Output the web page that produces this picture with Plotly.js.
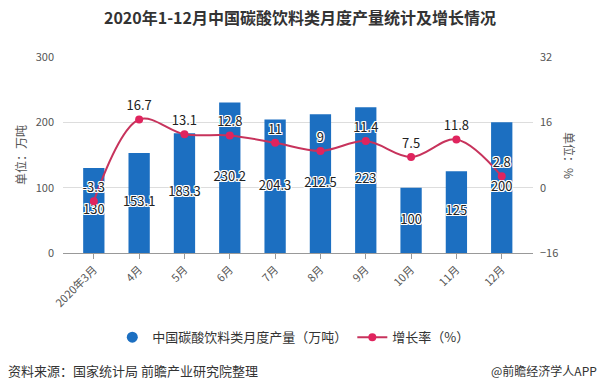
<!DOCTYPE html>
<html><head><meta charset="utf-8">
<script src="https://cdn.plot.ly/plotly-3.0.1.min.js"></script>
<style>html,body{margin:0;padding:0;background:#fff}#c{width:600px;height:391px}</style>
</head><body><div id="c"></div>
<script>
const categories = ['2020年3月','4月','5月','6月','7月','8月','9月','10月','11月','12月'];
const output = [130, 153.1, 183.3, 230.2, 204.3, 212.5, 223, 100, 125, 200];
const growth = [-3.3, 16.7, 13.1, 12.8, 11, 9, 11.4, 7.5, 11.8, 2.8];
const seriesNames = ['中国碳酸饮料类月度产量（万吨）', '增长率（%）'];

const FONT = '"Noto Sans CJK SC", "Noto Sans", sans-serif';
const SH = '1px 1px 0 #fff, -1px -1px 0 #fff, 1px -1px 0 #fff, -1px 1px 0 #fff, 0 1px 0 #fff, 0 -1px 0 #fff, 1px 0 0 #fff, -1px 0 0 #fff';
const BLUE = '#1c6fc1';
const RED = '#c7335c';

const traces = [
  {type:'bar', x:categories, y:output, marker:{color:BLUE}, width:0.47, showlegend:false, hoverinfo:'none'},
  {type:'scatter', mode:'text', x:categories, y:output.map(v=>v/2), text:output.map(String),
   textposition:'middle center', textfont:{size:13, color:'#222', family:FONT, shadow:SH}, showlegend:false, hoverinfo:'none'},
  {type:'scatter', mode:'lines+markers+text', x:categories, y:growth, yaxis:'y2', name:seriesNames[1],
   line:{color:RED, width:2, shape:'spline', smoothing:1}, marker:{color:'#e0245e', size:8},
   text:growth.map(String), textposition:'top center',
   textfont:{size:13, color:'#222', family:FONT, shadow:SH}, hoverinfo:'none'},
  {type:'scatter', mode:'markers', x:[null], y:[null], name:seriesNames[0],
   marker:{color:BLUE, size:11, symbol:'circle'}, hoverinfo:'none'}
];

const layout = {
  width:600, height:391,
  margin:{l:63, r:67, t:57, b:138},
  paper_bgcolor:'#fff', plot_bgcolor:'#fff',
  font:{family:FONT, color:'#555', size:11},
  title:{text:'<b>2020年1-12月中国碳酸饮料类月度产量统计及增长情况</b>', x:0.5, xanchor:'center', y:0.953, yanchor:'middle', font:{size:16, color:'#333', family:FONT}},
  showlegend:true,
  legend:{orientation:'h', x:0.49, xanchor:'center', y:-0.43, yanchor:'middle', traceorder:'reversed', font:{size:13, color:'#333'}, itemwidth:30},
  xaxis:{type:'category', range:[-0.68, 9.69], showline:true, linecolor:'#999', linewidth:1, ticks:'outside', ticklen:5, tickcolor:'#999',
         tickangle:-45, tickfont:{size:11, color:'#555'}, showgrid:false, zeroline:false},
  yaxis:{range:[0,300], dtick:100, showgrid:true, gridcolor:'#ddd', zeroline:false, ticks:'', tickfont:{size:11, color:'#555'},
         ticklabelstandoff:8,
         title:{text:'单位：万吨', font:{size:12, color:'#555'}, standoff:6}},
  yaxis2:{range:[-16,32], dtick:16, overlaying:'y', side:'right', showgrid:false, zeroline:false, tickfont:{size:11, color:'#555'},
          ticklabelstandoff:6},
  annotations:[
    {xref:'paper', yref:'paper', x:(570-63)/470, y:0.5, xanchor:'center', yanchor:'middle', textangle:90, showarrow:false,
     text:'单位：%', font:{size:12, color:'#555', family:FONT}},
    {xref:'paper', yref:'paper', x:-57/470, y:(253-370)/196, xanchor:'left', yanchor:'middle', showarrow:false,
     text:'资料来源：国家统计局 前瞻产业研究院整理', font:{size:13, color:'#333', family:FONT}},
    {xref:'paper', yref:'paper', x:(599-63)/470, y:(253-370)/196, xanchor:'right', yanchor:'middle', showarrow:false,
     text:'@前瞻经济学人APP', font:{size:12, color:'#333', family:FONT}}
  ]
};
Plotly.newPlot('c', traces, layout, {staticPlot:true});
</script></body></html>
